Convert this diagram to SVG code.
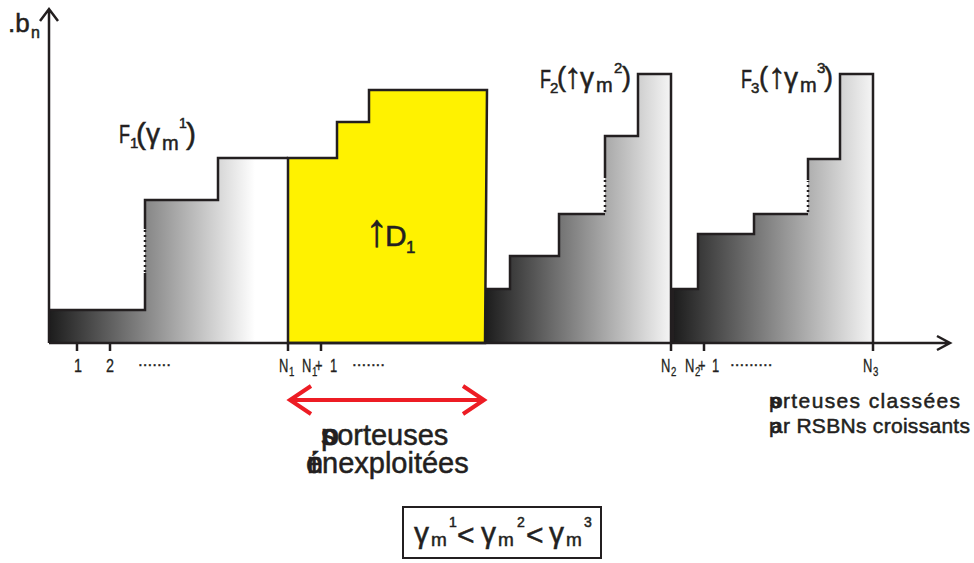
<svg xmlns="http://www.w3.org/2000/svg" width="974" height="563" viewBox="0 0 974 563">
<defs>
<linearGradient id="g1" gradientUnits="userSpaceOnUse" x1="49" y1="0" x2="255" y2="0"><stop offset="0" stop-color="#1c1c1c"/><stop offset="1" stop-color="#ffffff"/></linearGradient>
<linearGradient id="g2" gradientUnits="userSpaceOnUse" x1="485" y1="0" x2="671" y2="0"><stop offset="0" stop-color="#1c1c1c"/><stop offset="1" stop-color="#f5f5f5"/></linearGradient>
<linearGradient id="g3" gradientUnits="userSpaceOnUse" x1="673" y1="0" x2="873" y2="0"><stop offset="0" stop-color="#1c1c1c"/><stop offset="1" stop-color="#f5f5f5"/></linearGradient>
</defs>
<style>
.o{fill:none;stroke:#231f20;stroke-width:2.5;stroke-linejoin:miter}
.d{fill:none;stroke:#231f20;stroke-width:2.5;stroke-dasharray:2,3}
.t{font-family:"Liberation Sans","DejaVu Sans",sans-serif;fill:#231f20;stroke:#231f20;stroke-width:0.5}
.ax{font-family:"Liberation Sans","DejaVu Sans",sans-serif;fill:#231f20;stroke:#231f20;stroke-width:0.3}
.red{fill:none;stroke:#ed1c24;stroke-width:4;stroke-linecap:butt}
</style>

<g id="F1">
<path d="M49,343 V310 H145 V200 H218 V158 H288 V343 Z" fill="url(#g1)"/>
<path class="o" d="M49,310 H145 V273 M145,229 V200 H218 V158 H288"/>
<path class="d" d="M145,230 V272"/>
</g>

<g id="D1">
<path d="M288,343 V158 H337 V122 H369 V90 H487 L485,343 Z" fill="#fff200" stroke="#231f20" stroke-width="2.5"/>
<text class="t" font-size="46" x="365" y="246">↑</text>
<text class="t" font-size="30" x="385" y="246">D</text>
<text class="t" font-size="17" x="406" y="253">1</text>
</g>

<g id="F2">
<path d="M485,343 V289 H510 V256 H559 V214 H605 V136 H638 V74 H671 V343 Z" fill="url(#g2)"/>
<path class="o" d="M485,289 H510 V256 H559 V214 H605 M605,178 V136 H638 V74 H671 V343"/>
<path class="d" d="M605,212 V179"/>
</g>

<g id="F3">
<path d="M673,343 V289 H698 V234 H754 V214 H808 V159 H840 V74 H873 V343 Z" fill="url(#g3)"/>
<path class="o" d="M673,343 V289 H698 V234 H754 V214 H808 M808,180 V159 H840 V74 H873 V343"/>
<path class="d" d="M808,212 V181"/>
</g>

<g id="axes">
<path class="o" stroke-width="3" d="M49,343 V9 M40,21 L49,9 L58,21"/>
<path class="o" stroke-width="3" d="M49,343 H949 M937,336 L950,343 L937,350"/>
<path class="o" d="M77,343 V351 M110,343 V351 M288,343 V351 M321,343 V351 M671,343 V351 M704,343 V351 M873,343 V351"/>
</g>

<g id="ylabel">
<text class="t" font-size="26" x="8" y="32">.b</text>
<text class="t" font-size="16" x="31" y="38">n</text>
</g>

<g id="xlabels">
<text class="ax" font-size="18" transform="translate(78,372) scale(0.8,1)" text-anchor="middle">1</text>
<text class="ax" font-size="18" transform="translate(110,372) scale(0.8,1)" text-anchor="middle">2</text>
<text class="ax" font-size="17" transform="translate(138,366)">.......</text>
<text class="ax" font-size="18" transform="translate(279,372) scale(0.72,1)">N</text>
<text class="ax" font-size="12" transform="translate(289,376) scale(0.8,1)">1</text>
<text class="ax" font-size="18" transform="translate(302,372) scale(0.72,1)">N</text>
<text class="ax" font-size="12" transform="translate(312,376) scale(0.8,1)">1</text>
<text class="ax" font-size="18" transform="translate(315,372) scale(0.72,1)">+</text>
<text class="ax" font-size="18" transform="translate(330,372) scale(0.72,1)" fill="#666" stroke="#666">1</text>
<text class="ax" font-size="17" transform="translate(352,366)">.......</text>
<text class="ax" font-size="18" transform="translate(661,372) scale(0.72,1)">N</text>
<text class="ax" font-size="12" transform="translate(671,376) scale(0.8,1)">2</text>
<text class="ax" font-size="18" transform="translate(685,372) scale(0.72,1)">N</text>
<text class="ax" font-size="12" transform="translate(695,376) scale(0.8,1)">2</text>
<text class="ax" font-size="18" transform="translate(698,372) scale(0.72,1)">+</text>
<text class="ax" font-size="18" transform="translate(712,372) scale(0.72,1)" fill="#666" stroke="#666">1</text>
<text class="ax" font-size="17" transform="translate(730,366)">.........</text>
<text class="ax" font-size="18" transform="translate(863,372) scale(0.72,1)">N</text>
<text class="ax" font-size="12" transform="translate(873,376) scale(0.8,1)">3</text>
</g>

<g id="labelF1">
<text class="t" font-size="25" transform="translate(119,143) scale(0.72,1)">F</text>
<text class="t" font-size="15" x="130" y="148">1</text>
<text class="t" font-size="30" x="136" y="144">(</text>
<text class="t" font-size="28" x="146" y="143">γ</text>
<text class="t" font-size="20" x="162" y="150">m</text>
<text class="t" font-size="14" x="179" y="128">1</text>
<text class="t" font-size="30" x="186" y="144">)</text>
</g>

<g id="labelF2">
<text class="t" font-size="25" transform="translate(540,88) scale(0.72,1)">F</text>
<text class="t" font-size="15" x="550" y="93">2</text>
<text class="t" font-size="27" x="557" y="86">(</text>
<text class="t" font-size="36" x="564" y="88">↑</text>
<text class="t" font-size="28" x="580" y="87">γ</text>
<text class="t" font-size="20" x="596" y="92">m</text>
<text class="t" font-size="15" x="614" y="73">2</text>
<text class="t" font-size="27" x="622" y="86">)</text>
</g>

<g id="labelF3">
<text class="t" font-size="25" transform="translate(741,88) scale(0.72,1)">F</text>
<text class="t" font-size="15" x="751" y="93">3</text>
<text class="t" font-size="27" x="759" y="86">(</text>
<text class="t" font-size="36" x="768" y="88">↑</text>
<text class="t" font-size="28" x="784" y="87">γ</text>
<text class="t" font-size="20" x="800" y="92">m</text>
<text class="t" font-size="15" x="817" y="73">3</text>
<text class="t" font-size="27" x="824" y="86">)</text>
</g>

<g id="unused">
<path class="red" d="M291,400 H483 M311,386 L290,400 L311,414 M463,386 L484,400 L463,414"/>
<text class="t" font-size="29" x="321" y="445">s</text>
<text class="t" font-size="29" x="323" y="445">o</text>
<text class="t" font-size="29" x="321" y="445">porteuses</text>
<text class="t" font-size="29" x="306" y="473">é</text>
<text class="t" font-size="29" x="311" y="473">i</text>
<text class="t" font-size="29" x="307" y="473">n</text>
<text class="t" font-size="29" x="322" y="473">nexploitées</text>
</g>

<g id="sorted">
<text class="t" font-size="21" x="769" y="408">p</text>
<text class="t" font-size="21" x="771" y="408">o</text>
<text class="t" font-size="21" x="770" y="408">s</text>
<text class="t" font-size="21" x="783" y="408" textLength="177" lengthAdjust="spacing">rteuses classées</text>
<text class="t" font-size="21" x="769" y="433">p</text>
<text class="t" font-size="21" x="771" y="433">a</text>
<text class="t" font-size="21" x="783" y="433" textLength="187" lengthAdjust="spacing">r RSBNs croissants</text>
</g>

<g id="relation">
<rect x="403" y="507" width="198" height="51" fill="#fff" stroke="#231f20" stroke-width="2"/>
<text class="t" font-size="30" x="414" y="543">γ</text>
<text class="t" font-size="19" x="431" y="546">m</text>
<text class="t" font-size="14" x="449" y="527">1</text>
<text class="t" font-size="30" x="457" y="545">&lt;</text>
<text class="t" font-size="30" x="481" y="543">γ</text>
<text class="t" font-size="19" x="498" y="546">m</text>
<text class="t" font-size="14" x="517" y="527">2</text>
<text class="t" font-size="30" x="526" y="545">&lt;</text>
<text class="t" font-size="30" x="549" y="543">γ</text>
<text class="t" font-size="19" x="566" y="546">m</text>
<text class="t" font-size="14" x="584" y="527">3</text>
</g>
</svg>
